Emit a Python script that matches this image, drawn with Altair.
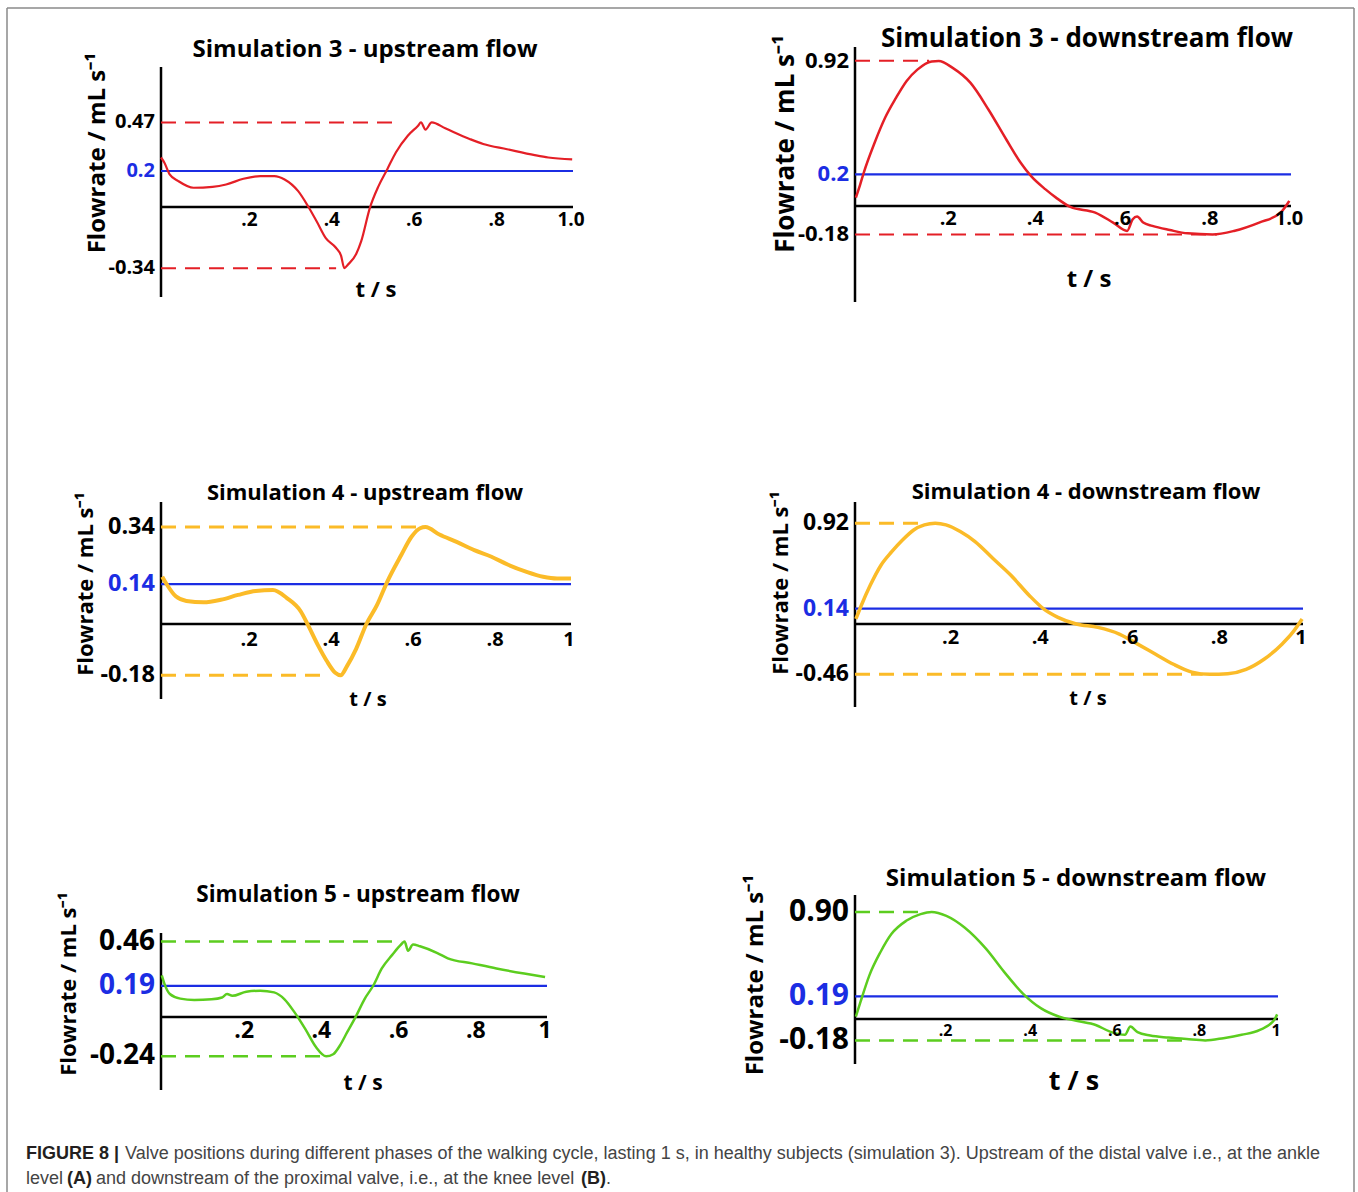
import altair as alt
import pandas as pd

# ---------------- data ----------------
s3_up_t = [0.0, 0.008, 0.021, 0.042, 0.079, 0.125, 0.158, 0.2, 0.241, 0.275, 0.3, 0.333, 0.358, 0.379, 0.4,
           0.424, 0.437, 0.445, 0.453, 0.474, 0.486, 0.507, 0.528, 0.549, 0.57, 0.599, 0.624, 0.631, 0.642,
           0.657, 0.69, 0.749, 0.782, 0.84, 0.907, 0.94, 0.998]
s3_up_v = [0.275, 0.247, 0.181, 0.144, 0.107, 0.112, 0.125, 0.157, 0.172, 0.172, 0.153, 0.088, 0.0, -0.085,
           -0.173, -0.225, -0.27, -0.34, -0.322, -0.26, -0.19, -0.005, 0.116, 0.209, 0.303, 0.396, 0.452, 0.47,
           0.43, 0.47, 0.437, 0.378, 0.35, 0.321, 0.288, 0.275, 0.265]

s3_down_t = [0.002, 0.012, 0.02, 0.045, 0.069, 0.094, 0.118, 0.143, 0.176, 0.192, 0.224, 0.265, 0.306, 0.347,
             0.38, 0.404, 0.437, 0.461, 0.494, 0.551, 0.592, 0.624, 0.637, 0.647, 0.661, 0.682, 0.722, 0.763,
             0.82, 0.869, 0.927, 0.976, 0.996]
s3_down_v = [0.053, 0.137, 0.21, 0.4, 0.558, 0.684, 0.79, 0.863, 0.915, 0.918, 0.874, 0.779, 0.611, 0.421,
             0.274, 0.189, 0.105, 0.053, -0.006, -0.042, -0.105, -0.158, -0.084, -0.067, -0.105, -0.126,
             -0.152, -0.173, -0.18, -0.158, -0.105, -0.042, 0.032]

s4_up_t = [0.003, 0.015, 0.036, 0.062, 0.104, 0.146, 0.188, 0.231, 0.273, 0.307, 0.341, 0.358, 0.383, 0.404,
           0.425, 0.438, 0.454, 0.476, 0.501, 0.527, 0.552, 0.586, 0.611, 0.632, 0.645, 0.679, 0.721, 0.764,
           0.806, 0.848, 0.89, 0.932, 0.966, 1.0]
s4_up_v = [0.166, 0.137, 0.097, 0.081, 0.076, 0.085, 0.102, 0.116, 0.119, 0.091, 0.044, -0.002, -0.075, -0.129,
           -0.171, -0.18, -0.147, -0.087, 0.0, 0.067, 0.149, 0.242, 0.306, 0.336, 0.34, 0.314, 0.288, 0.259,
           0.236, 0.207, 0.184, 0.166, 0.16, 0.16]

s4_down_t = [0.002, 0.014, 0.034, 0.058, 0.082, 0.106, 0.131, 0.155, 0.179, 0.203, 0.235, 0.268, 0.308, 0.348,
             0.389, 0.421, 0.453, 0.494, 0.542, 0.59, 0.631, 0.671, 0.711, 0.752, 0.792, 0.832, 0.873, 0.913,
             0.953, 0.977, 0.998]
s4_down_v = [0.046, 0.169, 0.353, 0.537, 0.66, 0.767, 0.859, 0.905, 0.92, 0.905, 0.844, 0.752, 0.598, 0.445,
             0.261, 0.138, 0.061, 0.0, -0.031, -0.092, -0.184, -0.276, -0.368, -0.439, -0.46, -0.454, -0.414,
             -0.322, -0.184, -0.077, 0.046]

s5_up_t = [0.002, 0.009, 0.023, 0.05, 0.086, 0.131, 0.158, 0.171, 0.185, 0.221, 0.257, 0.293, 0.32, 0.347,
           0.374, 0.401, 0.428, 0.446, 0.464, 0.482, 0.505, 0.527, 0.55, 0.572, 0.599, 0.622, 0.631, 0.64,
           0.653, 0.671, 0.716, 0.743, 0.806, 0.869, 0.941, 0.995]
s5_up_v = [0.254, 0.202, 0.14, 0.112, 0.104, 0.108, 0.119, 0.14, 0.129, 0.154, 0.16, 0.15, 0.108, 0.025,
           -0.074, -0.182, -0.24, -0.227, -0.172, -0.094, 0.004, 0.108, 0.192, 0.296, 0.379, 0.442, 0.46,
           0.404, 0.442, 0.431, 0.39, 0.358, 0.327, 0.296, 0.265, 0.244]

s5_down_t = [0.002, 0.013, 0.034, 0.06, 0.086, 0.121, 0.155, 0.181, 0.216, 0.259, 0.31, 0.353, 0.397, 0.44,
             0.483, 0.526, 0.569, 0.603, 0.638, 0.651, 0.668, 0.698, 0.741, 0.784, 0.828, 0.871, 0.914, 0.957,
             0.991, 0.998]
s5_down_v = [0.019, 0.144, 0.367, 0.561, 0.714, 0.825, 0.881, 0.9, 0.867, 0.769, 0.589, 0.394, 0.214, 0.089,
             0.019, -0.017, -0.05, -0.106, -0.133, -0.064, -0.111, -0.139, -0.156, -0.169, -0.18, -0.161,
             -0.133, -0.092, -0.008, 0.039]

titles = ["Simulation 3 - upstream flow", "Simulation 3 - downstream flow",
          "Simulation 4 - upstream flow", "Simulation 4 - downstream flow",
          "Simulation 5 - upstream flow", "Simulation 5 - downstream flow"]
max_vals = [0.47, 0.92, 0.34, 0.92, 0.46, 0.90]
mean_vals = [0.2, 0.2, 0.14, 0.14, 0.19, 0.19]
min_vals = [-0.34, -0.18, -0.18, -0.46, -0.24, -0.18]
max_labels = ["0.47", "0.92", "0.34", "0.92", "0.46", "0.90"]
mean_labels = ["0.2", "0.2", "0.14", "0.14", "0.19", "0.19"]
min_labels = ["-0.34", "-0.18", "-0.18", "-0.46", "-0.24", "-0.18"]
max_dash_end = [0.58, 0.17, 0.628, 0.155, 0.622, 0.16]
min_dash_end = [0.425, 0.83, 0.408, 0.776, 0.428, 0.784]
x_ticks = [0.2, 0.4, 0.6, 0.8]
x_tick_labels = [".2", ".4", ".6", ".8"]
x_end_labels = ["1.0", "1.0", "1", "1", "1", "1"]
curves_t = [s3_up_t, s3_down_t, s4_up_t, s4_down_t, s5_up_t, s5_down_t]
curves_v = [s3_up_v, s3_down_v, s4_up_v, s4_down_v, s5_up_v, s5_down_v]

RED = "#e41f26"
ORANGE = "#fbbb28"
GREEN = "#5ccd1f"
BLUE = "#1b2de3"
colors = [RED, RED, ORANGE, ORANGE, GREEN, GREEN]
FONT = "Open Sans"

# ---------------- layout (page pixels) ----------------
layouts = [
    dict(origin=(160, 40), w=412, h=260, zero=205, k=180, ax=(65, 295), lw=2.2, dw=2.0,
         title=(364, 48, 24), ytitle=(97, 151, 24), xtitle=(375, 288, 22), ylab=20, xlab=19, xdy=13),
    dict(origin=(854, 40), w=436, h=260, zero=204, k=158, ax=(45, 300), lw=2.5, dw=2.0,
         title=(1086, 37, 26), ytitle=(785, 142, 26), xtitle=(1088, 278, 24), ylab=22, xlab=20, xdy=13),
    dict(origin=(160, 485), w=410, h=220, zero=622, k=285, ax=(500, 697), lw=4.0, dw=3.0,
         title=(364, 491, 22), ytitle=(85, 582, 22), xtitle=(367, 698, 20), ylab=23.5, xlab=20, xdy=16),
    dict(origin=(854, 485), w=448, h=220, zero=622, k=109.5, ax=(500, 705), lw=3.5, dw=3.0,
         title=(1085, 490, 22), ytitle=(780, 581, 22), xtitle=(1087, 697, 20), ylab=23, xlab=20, xdy=14),
    dict(origin=(160, 890), w=386, h=198, zero=1015, k=164, ax=(931, 1088), lw=2.5, dw=2.5,
         title=(357, 893, 22.5), ytitle=(68, 982, 22), xtitle=(362, 1082, 21), ylab=28, xlab=23, xdy=14),
    dict(origin=(854, 890), w=423, h=198, zero=1017, k=119, ax=(893, 1062), lw=2.5, dw=2.5,
         title=(1075, 877, 24), ytitle=(755, 973, 24), xtitle=(1073, 1080, 27), ylab=30, xlab=16, xdy=12),
]


def panel(i):
    L = layouts[i]
    ox, oy = L["origin"]
    z, k = L["zero"], L["k"]
    ylo = -(oy + L["h"] - z) / k
    yhi = (z - oy) / k
    xs = alt.Scale(domain=[0, 1], nice=False, zero=False)
    ys = alt.Scale(domain=[ylo, yhi], nice=False, zero=False)

    def X(f):
        return alt.X(f, type="quantitative", scale=xs, axis=None)

    def Y(f):
        return alt.Y(f, type="quantitative", scale=ys, axis=None)

    one = pd.DataFrame({"k": [0]})
    col = colors[i]
    layers = []

    # y axis line
    ax_top = (z - L["ax"][0]) / k
    ax_bot = (z - L["ax"][1]) / k
    layers.append(alt.Chart(pd.DataFrame({"x": [0.0], "y": [ax_top], "y2": [ax_bot]}))
                  .mark_rule(color="black", strokeWidth=2.5)
                  .encode(x=X("x"), y=Y("y"), y2="y2"))
    # mean line
    layers.append(alt.Chart(pd.DataFrame({"x": [0.0], "x2": [1.0], "y": [mean_vals[i]]}))
                  .mark_rule(color=BLUE, strokeWidth=2.2)
                  .encode(x=X("x"), x2="x2", y=Y("y")))
    # dashed max / min
    layers.append(alt.Chart(pd.DataFrame({"x": [0.0, 0.0], "x2": [max_dash_end[i], min_dash_end[i]],
                                          "y": [max_vals[i], min_vals[i]]}))
                  .mark_rule(color=col, strokeWidth=L["dw"], strokeDash=[15, 9])
                  .encode(x=X("x"), x2="x2", y=Y("y")))
    # x axis (zero line)
    layers.append(alt.Chart(pd.DataFrame({"x": [0.0], "x2": [1.0], "y": [0.0]}))
                  .mark_rule(color="black", strokeWidth=2.5)
                  .encode(x=X("x"), x2="x2", y=Y("y")))
    # curve
    layers.append(alt.Chart(pd.DataFrame({"t": curves_t[i], "v": curves_v[i]}))
                  .mark_line(color=col, strokeWidth=L["lw"], interpolate="monotone")
                  .encode(x=X("t"), y=Y("v")))
    # y labels
    ylab_df = pd.DataFrame({"x": [0.0, 0.0, 0.0],
                            "y": [max_vals[i], mean_vals[i], min_vals[i]],
                            "label": [max_labels[i], mean_labels[i], min_labels[i]],
                            "c": ["black", BLUE, "black"]})
    layers.append(alt.Chart(ylab_df)
                  .mark_text(align="right", baseline="middle", dx=-6, font=FONT, fontWeight="bold",
                             fontSize=L["ylab"])
                  .encode(x=X("x"), y=Y("y"), text="label:N", color=alt.Color("c:N", scale=None)))
    # x labels
    layers.append(alt.Chart(pd.DataFrame({"t": x_ticks, "y": [0.0] * 4, "label": x_tick_labels}))
                  .mark_text(align="center", baseline="middle", dx=6, dy=L["xdy"], font=FONT,
                             fontWeight="bold", fontSize=L["xlab"], color="black")
                  .encode(x=X("t"), y=Y("y"), text="label:N"))
    layers.append(alt.Chart(pd.DataFrame({"t": [1.0], "y": [0.0], "label": [x_end_labels[i]]}))
                  .mark_text(align="center", baseline="middle", dx=-2, dy=L["xdy"], font=FONT,
                             fontWeight="bold", fontSize=L["xlab"], color="black")
                  .encode(x=X("t"), y=Y("y"), text="label:N"))
    # titles
    tx, ty, ts = L["title"]
    layers.append(alt.Chart(one).mark_text(text=titles[i], align="center", baseline="middle", font=FONT,
                                           fontWeight="bold", fontSize=ts, color="black")
                  .encode(x=alt.value(tx - ox), y=alt.value(ty - oy)))
    yx, yy, ysz = L["ytitle"]
    layers.append(alt.Chart(one).mark_text(text="Flowrate / mL s\u207b\u00b9", angle=270, align="center",
                                           baseline="middle", font=FONT, fontWeight="bold", fontSize=ysz,
                                           color="black")
                  .encode(x=alt.value(yx - ox), y=alt.value(yy - oy)))
    xx, xy, xsz = L["xtitle"]
    layers.append(alt.Chart(one).mark_text(text="t / s", align="center", baseline="middle", font=FONT,
                                           fontWeight="bold", fontSize=xsz, color="black")
                  .encode(x=alt.value(xx - ox), y=alt.value(xy - oy)))

    if i == 0:
        # figure frame (left, top, right edges)
        fl, ft, fr, fb = 6, 6, 1353, 1194
        frame_col = "#8a8a8a"
        layers.append(alt.Chart(one).mark_rule(color=frame_col, strokeWidth=1.5)
                      .encode(x=alt.value(fl - ox), y=alt.value(ft - oy), y2=alt.value(fb - oy)))
        layers.append(alt.Chart(one).mark_rule(color=frame_col, strokeWidth=1.5)
                      .encode(x=alt.value(fl - ox), x2=alt.value(fr - ox), y=alt.value(ft - oy)))
        layers.append(alt.Chart(one).mark_rule(color=frame_col, strokeWidth=1.5)
                      .encode(x=alt.value(fr - ox), y=alt.value(ft - oy), y2=alt.value(fb - oy)))
        # caption
        cap = [
            ("FIGURE 8 |", 25, 1152, "bold", "#231f20"),
            ("Valve positions during different phases of the walking cycle, lasting 1 s, in healthy subjects "
             "(simulation 3). Upstream of the distal valve i.e., at the ankle", 124, 1152, "normal", "#444444"),
            ("level", 25, 1177, "normal", "#444444"),
            ("(A)", 66, 1177, "bold", "#231f20"),
            ("and downstream of the proximal valve, i.e., at the knee level", 95, 1177, "normal", "#444444"),
            ("(B)", 580, 1177, "bold", "#231f20"),
            (".", 605, 1177, "normal", "#444444"),
        ]
        for txt, cx, cy, fw, cc in cap:
            layers.append(alt.Chart(one).mark_text(text=txt, align="left", baseline="middle",
                                                   font="Liberation Sans", fontWeight=fw, fontSize=18,
                                                   color=cc)
                          .encode(x=alt.value(cx - ox), y=alt.value(cy - oy)))

    return alt.layer(*layers).properties(width=L["w"], height=L["h"])


chart = alt.concat(*[panel(i) for i in range(6)], columns=2, spacing={"row": 185, "column": 282},
                   bounds="flush", align="each").properties(
    padding={"left": 6, "top": 7, "right": 0, "bottom": 0},
    background="white",
).configure_view(strokeWidth=0)

chart.save("out.html", embed_options={"renderer": "svg", "actions": False})
